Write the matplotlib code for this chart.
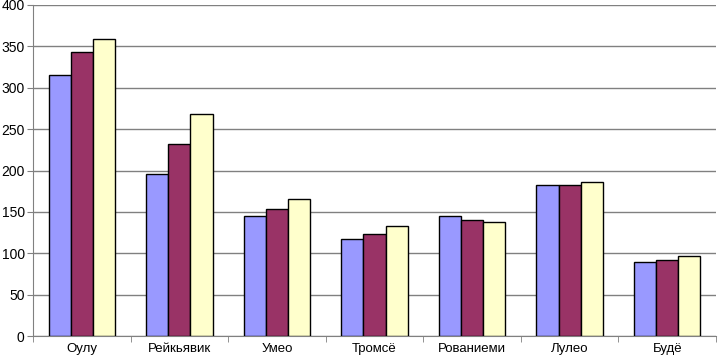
import numpy as np
import matplotlib
matplotlib.use("Agg")
import matplotlib.pyplot as plt

plt.rcParams["font.family"] = ["Liberation Sans", "DejaVu Sans"]

cities = ["Оулу", "Рейкьявик", "Умео", "Тромсё", "Рованиеми", "Лулео", "Будё"]
series_a = [315, 196, 145, 117, 145, 182, 89]
series_b = [343, 232, 153, 123, 140, 182, 92]
series_c = [359, 268, 165, 133, 138, 186, 97]
colors = ["#9999FF", "#993366", "#FFFFCC"]

fig = plt.figure(figsize=(7.2, 3.59), dpi=100)
ax = fig.add_axes([33 / 720, 1 - 336 / 359, 683 / 720, 331 / 359])

x = np.arange(len(cities))
w = 0.227
for i, (vals, c) in enumerate(zip([series_a, series_b, series_c], colors)):
    ax.bar(x + (i - 1) * w, vals, w, color=c, edgecolor="black", linewidth=1.0, zorder=3)

ax.set_xlim(-0.5, len(cities) - 0.5)
ax.set_ylim(0, 400)
ax.set_yticks(range(0, 401, 50))
ax.yaxis.grid(True, color="#808080", linewidth=1.0, zorder=0)
ax.set_xticks(x)
ax.set_xticklabels(cities, fontsize=9.5)
ax.set_xticks(np.arange(-0.5, len(cities)), minor=True)
ax.tick_params(axis="x", which="major", length=0, pad=5)
ax.tick_params(axis="x", which="minor", length=4, color="#808080")
ax.tick_params(axis="y", length=4, color="#808080", labelsize=10, pad=2)
for s in ["top", "right"]:
    ax.spines[s].set_visible(False)
for s in ["left", "bottom"]:
    ax.spines[s].set_color("#808080")

fig.savefig("out.png", dpi=100, facecolor="white")
